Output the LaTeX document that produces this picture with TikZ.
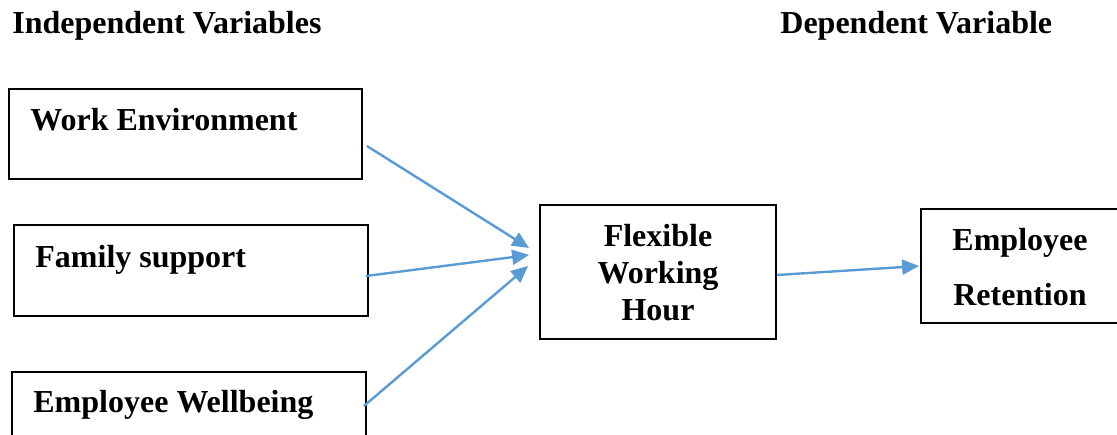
\documentclass[tikz,border=0pt]{standalone}
\usepackage{fontspec}
\setmainfont{Liberation Serif}
\usetikzlibrary{arrows.meta}

\begin{document}
\begin{tikzpicture}[x=0.5pt, y=-0.5pt, >={Triangle[length=8.5pt, width=7.5pt]},
  caja/.style={draw, line width=0.9pt, inner sep=0pt},
  texto/.style={font=\bfseries\fontsize{16}{18.5}\selectfont, inner sep=0pt},
  flecha/.style={->, draw=azul, line width=1.2pt}]
  \definecolor{azul}{HTML}{5B9BD5}
  \clip (0,0) rectangle (1117,434);
  % titulos
  \node[texto, anchor=base west] (indep) at (12,33) {Independent Variables};
  \node[texto, anchor=base west] (dep) at (780,33) {Dependent Variable};
  % variables independientes
  \node[caja, minimum width=176.5pt, minimum height=45pt] (env) at (185.5,134) {};
  \node[texto, anchor=base west] (envtxt) at (30,130) {Work Environment};
  \node[caja, minimum width=177pt, minimum height=45.5pt] (fam) at (191,270.5) {};
  \node[texto, anchor=base west] (famtxt) at (35,267) {Family support};
  \node[caja, minimum width=177pt, minimum height=45pt] (well) at (189,417) {};
  \node[texto, anchor=base west] (welltxt) at (33,412) {Employee Wellbeing};
  % mediadora y dependiente
  \node[caja, minimum width=118pt, minimum height=67pt] (flex) at (658,272) {};
  \node[texto, align=center, anchor=base] (flextxt) at (658,320)
    {Flexible\\Working\\Hour};
  \node[caja, minimum width=100pt, minimum height=57pt] (ret) at (1021,266) {};
  \node[texto, align=center, anchor=base,
    font=\bfseries\fontsize{16}{27.5}\selectfont] (rettxt) at (1020,305)
    {Employee\\Retention};
  % flechas
  \draw[flecha] ([shift={(4,12)}]env.east) -- ([shift={(-10,-24)}]flex.west);
  \draw[flecha] ([shift={(-3,5.5)}]fam.east) -- ([shift={(-10,-17)}]flex.west);
  \draw[flecha] ([shift={(-3,-11)}]well.east) -- ([shift={(-11,-6)}]flex.west);
  \draw[flecha] ([shift={(0,3)}]flex.east) -- ([shift={(-1,0)}]ret.west);
\end{tikzpicture}
\end{document}
